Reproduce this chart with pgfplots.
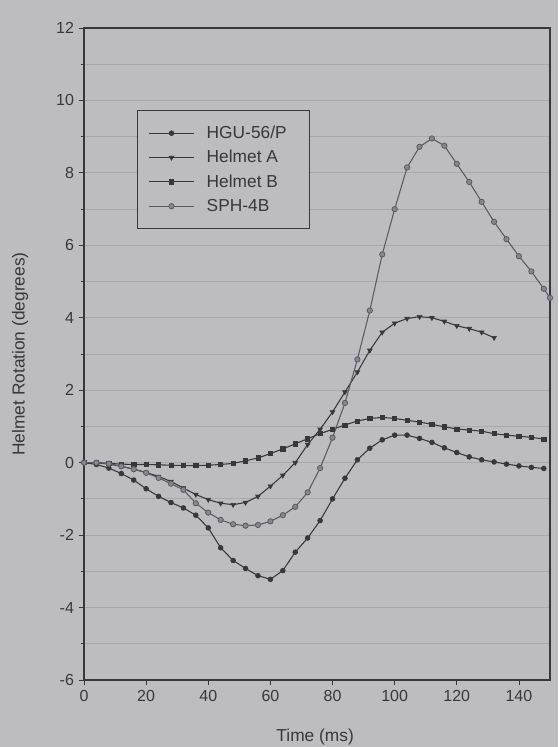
\documentclass[border=0pt]{standalone}
\usepackage{fontspec}
\setmainfont{Liberation Sans}
\usepackage{pgfplots}
\usepackage{pgfplotstable}
\pgfplotsset{compat=1.18}
\definecolor{bg}{RGB}{189,189,193}
\definecolor{gridc}{RGB}{168,168,173}
\definecolor{ink}{RGB}{55,55,60}
\definecolor{inkl}{RGB}{90,90,96}
\definecolor{markl}{RGB}{135,135,141}

\pgfplotstableread{
t v
0 0
4 -0.05
8 -0.15
12 -0.3
16 -0.48
20 -0.72
24 -0.93
28 -1.1
32 -1.25
36 -1.45
40 -1.8
44 -2.35
48 -2.7
52 -2.92
56 -3.12
60 -3.22
64 -2.98
68 -2.47
72 -2.08
76 -1.6
80 -1.0
84 -0.43
88 0.08
92 0.4
96 0.63
100 0.76
104 0.76
108 0.67
112 0.56
116 0.41
120 0.28
124 0.16
128 0.08
132 0.02
136 -0.04
140 -0.09
144 -0.13
148 -0.16
}\hgu

\pgfplotstableread{
t v
0 0
4 0
8 -0.04
12 -0.1
16 -0.18
20 -0.27
24 -0.38
28 -0.52
32 -0.7
36 -0.88
40 -1.02
44 -1.12
48 -1.16
52 -1.1
56 -0.93
60 -0.65
64 -0.35
68 0.0
72 0.5
76 0.92
80 1.4
84 1.95
88 2.5
92 3.1
96 3.6
100 3.85
104 3.98
108 4.03
112 4.0
116 3.9
120 3.78
124 3.7
128 3.6
132 3.45
}\helmetA

\pgfplotstableread{
t v
0 0
4 0
8 -0.02
12 -0.04
16 -0.05
20 -0.05
24 -0.06
28 -0.07
32 -0.08
36 -0.08
40 -0.07
44 -0.05
48 -0.02
52 0.05
56 0.13
60 0.25
64 0.38
68 0.52
72 0.66
76 0.8
80 0.92
84 1.04
88 1.15
92 1.22
96 1.25
100 1.22
104 1.17
108 1.12
112 1.06
116 0.99
120 0.93
124 0.9
128 0.87
132 0.8
136 0.76
140 0.73
144 0.7
148 0.65
}\helmetB

\pgfplotstableread{
t v
0 0
4 0
8 -0.03
12 -0.1
16 -0.18
20 -0.28
24 -0.42
28 -0.58
32 -0.75
36 -1.12
40 -1.38
44 -1.58
48 -1.7
52 -1.74
56 -1.72
60 -1.62
64 -1.45
68 -1.22
72 -0.82
76 -0.15
80 0.69
84 1.65
88 2.85
92 4.2
96 5.75
100 7.0
104 8.15
108 8.72
112 8.95
116 8.75
120 8.25
124 7.75
128 7.2
132 6.65
136 6.17
140 5.7
144 5.28
148 4.8
150 4.55
}\sph

\begin{document}
\begin{tikzpicture}
\fill[bg] (-63pt,-50.25pt) rectangle (355.5pt,510pt);
\begin{axis}[
  scale only axis, width=349.5pt, height=489pt,
  xmin=0, xmax=150, ymin=-6, ymax=12,
  xtick={0,20,...,140}, ytick={-6,-4,...,12},
  minor ytick={-5,-3,...,11},
  ymajorgrids, yminorgrids,
  major grid style={gridc, line width=0.6pt},
  minor grid style={gridc, line width=0.6pt},
  tick align=outside, major tick length=4pt, minor tick length=2.5pt,
  tick style={ink, line width=0.6pt},
  xtick pos=left, ytick pos=left,
  axis line style={ink, line width=0.9pt},
  axis background/.style={fill=bg},
  tick label style={font=\fontsize{12}{14}\selectfont, text=ink},
  /pgf/number format/assume math mode=true,
  xlabel={Time (ms)}, ylabel={Helmet Rotation (degrees)},
  every axis x label/.style={at={(axis description cs:0.496,-0.087)},anchor=center,
    font=\fontsize{13}{15}\selectfont, text=ink},
  every axis y label/.style={at={(axis description cs:-0.137,0.5)},rotate=90,anchor=center,
    font=\fontsize{13}{15}\selectfont, text=ink},
  legend style={at={(0.114,0.874)}, anchor=north west, draw=ink, line width=0.8pt,
    fill=bg, inner xsep=8pt, inner ysep=7.75pt, row sep=0pt, column sep=9pt,
    font=\fontsize{13}{15}\selectfont, text=ink,
    nodes={inner sep=0pt, minimum height=18.25pt}},
  legend cell align=left,
  legend image code/.code={\draw[mark repeat=2,mark phase=2,#1] plot coordinates {(0pt,0pt) (17pt,0pt) (34pt,0pt)};},
]
\addplot[ink, line width=0.8pt, mark=*, mark size=1.8pt, mark options={solid, fill=ink, draw=ink, line width=0.5pt}] table[x=t,y=v] {\hgu};
\addlegendentry{\makebox[69pt][l]{HGU-56/P}}
\addplot[ink, line width=0.8pt, mark=triangle*, mark size=2pt, mark options={solid, rotate=180, fill=ink, draw=ink, line width=0.5pt}] table[x=t,y=v] {\helmetA};
\addlegendentry{\makebox[69pt][l]{Helmet A}}
\addplot[ink, line width=0.8pt, mark=square*, mark size=1.6pt, mark options={solid, fill=ink, draw=ink, line width=0.5pt}] table[x=t,y=v] {\helmetB};
\addlegendentry{\makebox[69pt][l]{Helmet B}}
\addplot[inkl, line width=0.8pt, mark=*, mark size=2pt, mark options={solid, fill=markl, draw=inkl, line width=0.6pt}] table[x=t,y=v] {\sph};
\addlegendentry{\makebox[69pt][l]{SPH-4B}}
\end{axis}
\pgfresetboundingbox
\path[use as bounding box] (-63pt,-50.25pt) rectangle (355.5pt,510pt);
\end{tikzpicture}
\end{document}
